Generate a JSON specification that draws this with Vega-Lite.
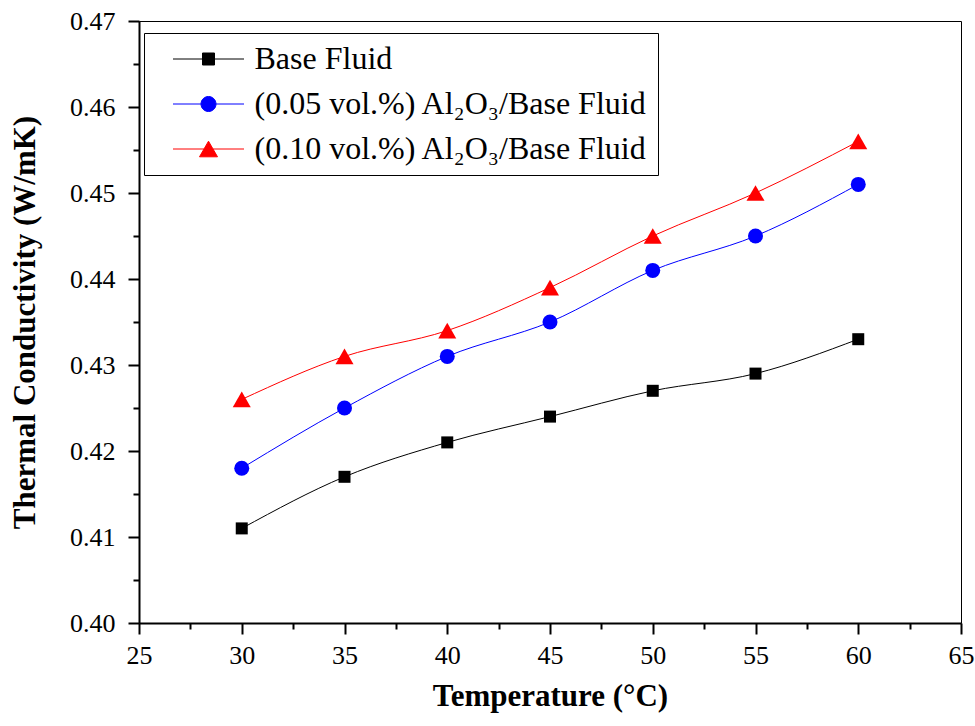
{
  "$schema": "https://vega.github.io/schema/vega-lite/v6.json",
  "width": 822,
  "height": 602,
  "padding": {"left": 9, "top": 8, "right": 5, "bottom": 5},
  "background": "white",
  "config": {
    "view": {"stroke": "#000", "strokeWidth": 1},
    "font": "Liberation Serif",
    "axis": {"labelFont": "Liberation Serif", "labelFontSize": 26, "titleFont": "Liberation Serif"},
    "legend": {"labelFont": "Liberation Serif"}
  },
  "data": {
    "values": [
      {"series": "Base Fluid", "temp": 30, "k": 0.411},
      {"series": "Base Fluid", "temp": 35, "k": 0.417},
      {"series": "Base Fluid", "temp": 40, "k": 0.421},
      {"series": "Base Fluid", "temp": 45, "k": 0.424},
      {"series": "Base Fluid", "temp": 50, "k": 0.427},
      {"series": "Base Fluid", "temp": 55, "k": 0.429},
      {"series": "Base Fluid", "temp": 60, "k": 0.433},
      {"series": "(0.05 vol.%) Al₂O₃/Base Fluid", "temp": 30, "k": 0.418},
      {"series": "(0.05 vol.%) Al₂O₃/Base Fluid", "temp": 35, "k": 0.425},
      {"series": "(0.05 vol.%) Al₂O₃/Base Fluid", "temp": 40, "k": 0.431},
      {"series": "(0.05 vol.%) Al₂O₃/Base Fluid", "temp": 45, "k": 0.435},
      {"series": "(0.05 vol.%) Al₂O₃/Base Fluid", "temp": 50, "k": 0.441},
      {"series": "(0.05 vol.%) Al₂O₃/Base Fluid", "temp": 55, "k": 0.445},
      {"series": "(0.05 vol.%) Al₂O₃/Base Fluid", "temp": 60, "k": 0.451},
      {"series": "(0.10 vol.%) Al₂O₃/Base Fluid", "temp": 30, "k": 0.426},
      {"series": "(0.10 vol.%) Al₂O₃/Base Fluid", "temp": 35, "k": 0.431},
      {"series": "(0.10 vol.%) Al₂O₃/Base Fluid", "temp": 40, "k": 0.434},
      {"series": "(0.10 vol.%) Al₂O₃/Base Fluid", "temp": 45, "k": 0.439},
      {"series": "(0.10 vol.%) Al₂O₃/Base Fluid", "temp": 50, "k": 0.445},
      {"series": "(0.10 vol.%) Al₂O₃/Base Fluid", "temp": 55, "k": 0.450},
      {"series": "(0.10 vol.%) Al₂O₃/Base Fluid", "temp": 60, "k": 0.456}
    ]
  },
  "encoding": {
    "x": {
      "field": "temp", "type": "quantitative",
      "scale": {"domain": [25, 65], "nice": false, "zero": false},
      "axis": {
        "title": "Temperature (°C)",
        "titleFont": "Liberation Serif", "titleFontSize": 31, "titleFontWeight": "bold", "titleColor": "#000", "titlePadding": 13,
        "values": [25, 27.5, 30, 32.5, 35, 37.5, 40, 42.5, 45, 47.5, 50, 52.5, 55, 57.5, 60, 62.5, 65],
        "labelExpr": "datum.value % 5 === 0 ? datum.label : ''",
        "labelFont": "Liberation Serif", "labelFontSize": 26, "labelColor": "#000", "labelPadding": 8,
        "grid": false,
        "domainColor": "#000", "domainWidth": 2,
        "tickColor": "#000", "tickWidth": 2,
        "tickSize": {"condition": {"test": "datum.value % 5 === 0", "value": 11}, "value": 6},
        "labelFlush": false, "labelOverlap": false,
        "encode": {"labels": {"update": {"font": {"value": "Liberation Serif"}, "fontSize": {"value": 26}}}}
      }
    },
    "y": {
      "field": "k", "type": "quantitative",
      "scale": {"domain": [0.40, 0.47], "nice": false, "zero": false},
      "axis": {
        "title": "Thermal Conductivity (W/mK)",
        "titleFont": "Liberation Serif", "titleFontSize": 31, "titleFontWeight": "bold", "titleColor": "#000", "titlePadding": 28,
        "values": [0.40, 0.405, 0.41, 0.415, 0.42, 0.425, 0.43, 0.435, 0.44, 0.445, 0.45, 0.455, 0.46, 0.465, 0.47],
        "labelExpr": "round(datum.value*1000) % 10 === 0 ? format(datum.value, '.2f') : ''",
        "labelFont": "Liberation Serif", "labelFontSize": 26, "labelColor": "#000", "labelPadding": 13,
        "grid": false,
        "domainColor": "#000", "domainWidth": 2,
        "tickColor": "#000", "tickWidth": 2,
        "tickSize": {"condition": {"test": "round(datum.value*1000) % 10 === 0", "value": 11}, "value": 6},
        "labelFlush": false, "labelOverlap": false,
        "encode": {"labels": {"update": {"font": {"value": "Liberation Serif"}, "fontSize": {"value": 26}}}}
      }
    },
    "color": {
      "field": "series", "type": "nominal",
      "scale": {
        "domain": ["Base Fluid", "(0.05 vol.%) Al₂O₃/Base Fluid", "(0.10 vol.%) Al₂O₃/Base Fluid"],
        "range": ["#000000", "#0000ff", "#ff0000"]
      },
      "legend": {
        "title": null,
        "orient": "none",
        "legendX": 5,
        "legendY": 12,
        "strokeColor": "#000",
        "fillColor": "#fff",
        "padding": 10,
        "rowPadding": 13,
        "labelFont": "Liberation Serif",
        "labelFontSize": 32,
        "labelColor": "#000",
        "labelLimit": 700,
        "symbolSize": 400,
        "symbolOpacity": 1,
        "symbolStrokeWidth": 1,
        "symbolOffset": 38.5,
        "labelOffset": 30,
        "encode": {
          "symbols": {
            "update": {
              "fill": {"signal": "scale('color', datum.value)"},
              "stroke": {"signal": "scale('color', datum.value)"},
              "strokeWidth": {"value": 1},
              "opacity": {"value": 1},
              "fillOpacity": {"value": 1},
              "strokeOpacity": {"value": 1}
            }
          }
        }
      }
    }
  },
  "layer": [
    {
      "mark": {"type": "point", "filled": true, "opacity": 0},
      "encoding": {
        "shape": {
          "field": "series", "type": "nominal",
          "scale": {
            "domain": ["Base Fluid", "(0.05 vol.%) Al₂O₃/Base Fluid", "(0.10 vol.%) Al₂O₃/Base Fluid"],
            "range": [
              "M-3.55,0H-0.6M0.6,0H3.55M-0.6,-0.6H0.6V0.6H-0.6Z",
              "M-3.55,0H-0.75M0.75,0H3.55M-0.75,0A0.75,0.75,0,1,0,0.75,0A0.75,0.75,0,1,0,-0.75,0Z",
              "M-3.55,0H-0.45M0.45,0H3.55M0,-0.78L0.9,0.78L-0.9,0.78Z"
            ]
          }
        }
      }
    },
    {"mark": {"type": "line", "interpolate": "monotone", "strokeWidth": 1}},
    {
      "transform": [{"filter": "datum.series === 'Base Fluid'"}],
      "mark": {"type": "point", "filled": true, "opacity": 1, "shape": "square", "size": 144}
    },
    {
      "transform": [{"filter": "indexof(datum.series, '0.05') >= 0"}],
      "mark": {"type": "point", "filled": true, "opacity": 1, "shape": "circle", "size": 225}
    },
    {
      "transform": [{"filter": "indexof(datum.series, '0.10') >= 0"}],
      "mark": {"type": "point", "filled": true, "opacity": 1, "shape": "triangle-up", "size": 324}
    }
  ]
}
